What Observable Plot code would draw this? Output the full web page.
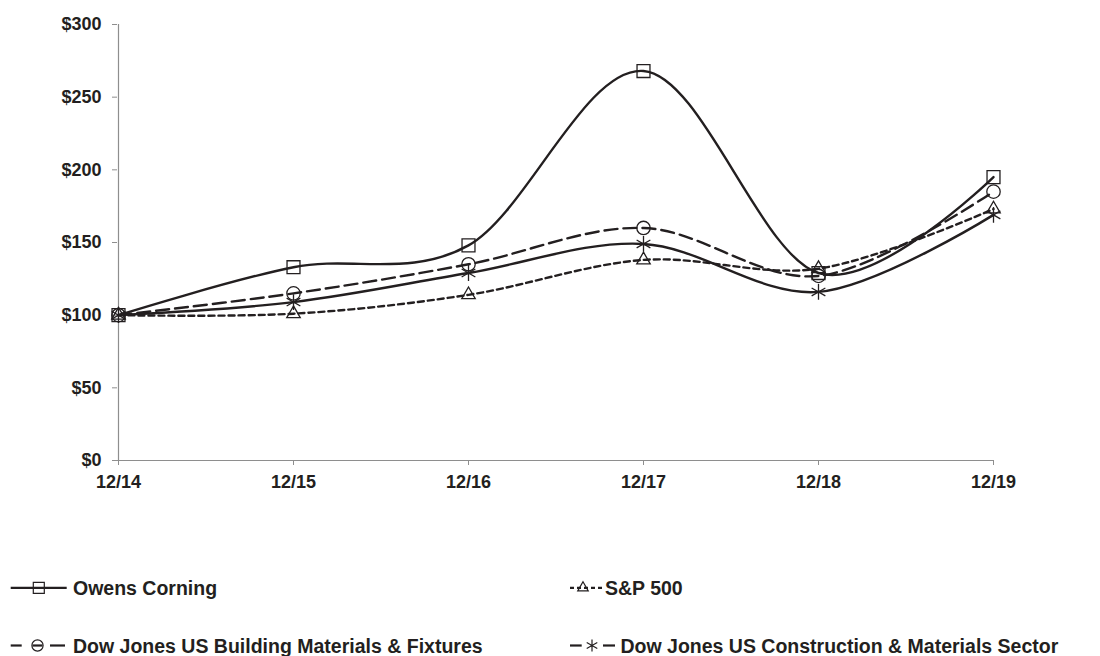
<!DOCTYPE html>
<html>
<head>
<meta charset="utf-8">
<script src="https://cdn.jsdelivr.net/npm/d3@7"></script>
<script src="https://cdn.jsdelivr.net/npm/@observablehq/plot@0.6"></script>
<style>
  html, body { margin: 0; padding: 0; background: #fff; }
  #wrap { position: relative; width: 1100px; height: 656px; overflow: hidden; font-family: "Liberation Sans", Arial, sans-serif; }
  #legend { position: absolute; left: 0; top: 500px; }
</style>
</head>
<body>
<div id="wrap"><div id="chart"></div><div id="legend"></div></div>
<script>
// ---- data ----
const dates = ["12/14", "12/15", "12/16", "12/17", "12/18", "12/19"];
const owensCorning   = [100, 133, 148, 268, 129, 195];
const sp500          = [100, 101, 114, 138, 132, 173];
const djBuilding     = [100, 115, 135, 160, 127, 185];
const djConstruction = [100, 109, 129, 149, 116, 169];
const yTicks = [0, 50, 100, 150, 200, 250, 300];
const seriesNames = ["Owens Corning", "S&P 500", "Dow Jones US Building Materials & Fixtures", "Dow Jones US Construction & Materials Sector"];

const ink = "#231f20";
const axisGray = "#8e8e8e";

const toRows = (vals) => dates.map((d, i) => ({date: d, value: vals[i]}));
const ocRows = toRows(owensCorning);
const spRows = toRows(sp500);
const bmRows = toRows(djBuilding);
const cmRows = toRows(djConstruction);

const lineOpts = {x: "date", y: "value", curve: "cardinal", stroke: ink, strokeWidth: 2.4};
const dotOpts = {x: "date", y: "value", fill: "none", stroke: ink, strokeWidth: 1.3};

const chart = Plot.plot({
  width: 1100,
  height: 500,
  marginLeft: 117,
  marginRight: 106,
  marginTop: 24,
  marginBottom: 40,
  x: {type: "point", domain: dates, padding: 0},
  y: {domain: [0, 300]},
  style: {fontFamily: "'Liberation Sans', Arial, sans-serif", fontSize: "18px", fontWeight: "bold", color: ink, background: "white"},
  marks: [
    Plot.axisY({ticks: yTicks, tickFormat: d => "$" + d, tickSize: 5, tickPadding: 11, stroke: axisGray, fill: ink, label: null}),
    Plot.axisX({tickSize: 5, tickPadding: 10, stroke: axisGray, fill: ink, label: null}),
    Plot.ruleX([dates[0]], {y1: 0, y2: 300, stroke: axisGray, strokeWidth: 1.2}),
    Plot.ruleY([0], {stroke: axisGray, strokeWidth: 1.2}),
    Plot.line(spRows, {...lineOpts, strokeDasharray: "6,4"}),
    Plot.line(bmRows, {...lineOpts, strokeDasharray: "13,6"}),
    Plot.line(cmRows, {...lineOpts}),
    Plot.line(ocRows, {...lineOpts}),
    Plot.dot(ocRows, {...dotOpts, symbol: "square", r: 7.3}),
    Plot.dot(bmRows, {...dotOpts, symbol: "circle", r: 6.7}),
    Plot.dot(spRows, {...dotOpts, symbol: "triangle", r: 5}),
    Plot.dot(cmRows, {...dotOpts, symbol: "asterisk", r: 7.5})
  ]
});
document.getElementById("chart").appendChild(chart);

// ---- legend (below the SVG) ----
const leg = d3.select("#legend").append("svg").attr("width", 1100).attr("height", 156)
  .style("font-family", "'Liberation Sans', Arial, sans-serif").style("font-weight", "bold").style("font-size", "19.5px");
const off = 500;
const items = [
  {name: seriesNames[0], y: 587.8 - off, segs: [[10.7, 66.7]], dash: null, sym: d3.symbolSquare, sx: 38.8, size: 11 * 11, tx: 73},
  {name: seriesNames[1], y: 587.8 - off, segs: [[570, 602]], dash: "4,3", sym: d3.symbolTriangle, sx: 583, size: 10.5 * 10.5 * Math.sqrt(3) / 4, tx: 605},
  {name: seriesNames[2], y: 645.5 - off, segs: [[10.7, 21.7], [32.5, 42.5], [50, 65]], dash: null, sym: d3.symbolCircle, sx: 37.5, size: Math.PI * 5.6 * 5.6, tx: 73},
  {name: seriesNames[3], y: 645.5 - off, segs: [[570, 581.7], [603, 615]], dash: null, sym: d3.symbolAsterisk, sx: 592, size: 105, tx: 620.5}
];
for (const it of items) {
  for (const [a, b] of it.segs) {
    leg.append("line").attr("x1", a).attr("x2", b).attr("y1", it.y).attr("y2", it.y)
      .attr("stroke", ink).attr("stroke-width", 2.2).attr("stroke-dasharray", it.dash);
  }
  leg.append("path").attr("d", d3.symbol(it.sym, it.size)()).attr("transform", `translate(${it.sx},${it.y})`)
    .attr("fill", "none").attr("stroke", ink).attr("stroke-width", 1.2);
  leg.append("text").attr("x", it.tx).attr("y", it.y + 7).attr("fill", ink).text(it.name);
}
</script>
</body>
</html>
